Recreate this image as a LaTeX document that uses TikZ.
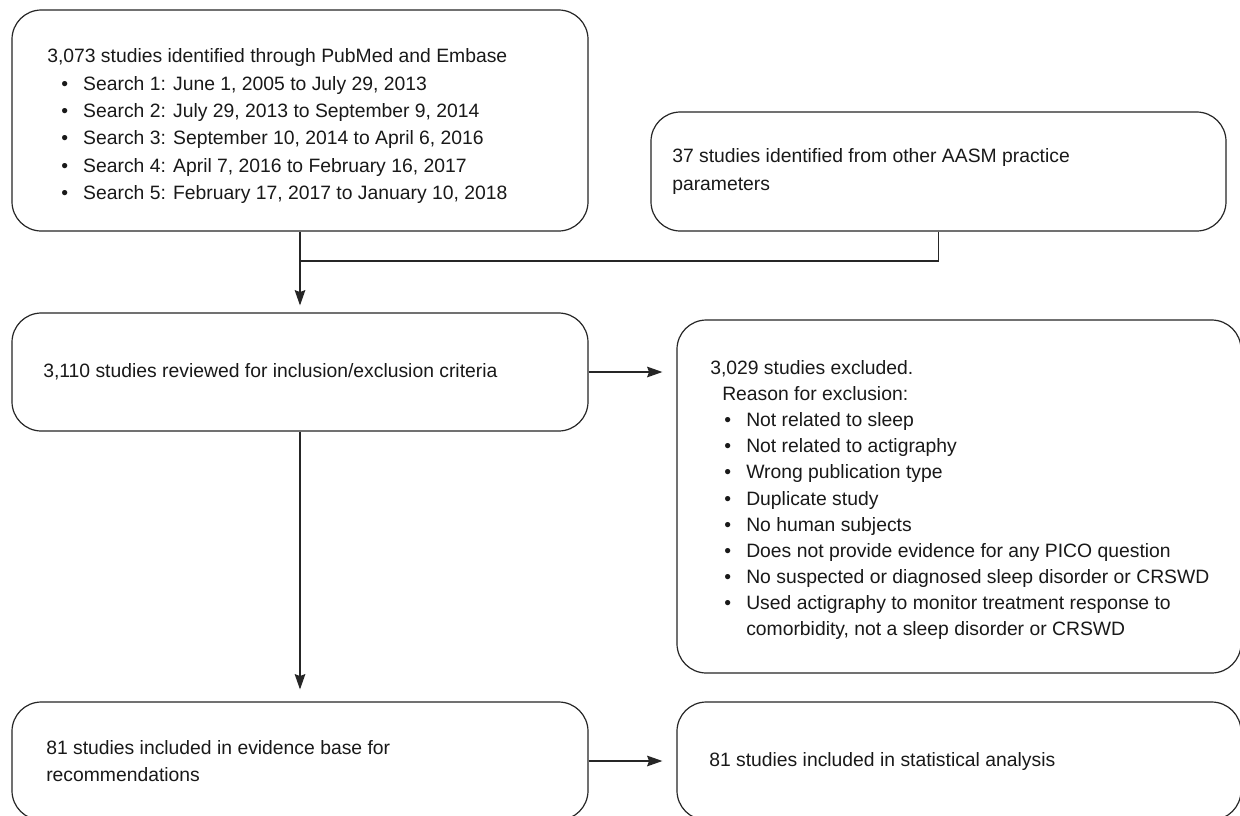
\documentclass[tikz,border=0pt]{standalone}
\usepackage{fontspec}
\setmainfont{Liberation Sans}
\usetikzlibrary{arrows.meta}
\newcommand{\bitem}[1]{\hspace*{10.5pt}\makebox[16.5pt][l]{\textbullet}#1}
\begin{document}
\begin{tikzpicture}[x=0.75pt,y=-0.75pt,
  box/.style={draw=black!85, line width=0.9pt, rounded corners=22pt, rectangle, inner sep=0pt},
  txt/.style={anchor=west, inner sep=0pt, align=left, text=black!90, font=\fontsize{14.5}{20.5}\selectfont},
  conn/.style={draw=black!85, line width=0.9pt},
  arr/.style={conn, -{Stealth[length=11.5pt,width=8pt,inset=1.5pt]}}]
\useasboundingbox (0,0) rectangle (1240,815);
\fill[white] (0,0) rectangle (1240,815);
% boxes
\node[box, minimum width=432pt, minimum height=165.75pt] (b1) at (300,120.5) {};
\node[box, minimum width=431.25pt, minimum height=89.25pt] (b2) at (938.5,171.5) {};
\node[box, minimum width=432pt, minimum height=88.5pt] (b3) at (300,372) {};
\node[box, minimum width=423pt, minimum height=264.75pt] (b4) at (959,496.5) {};
\node[box, minimum width=432pt, minimum height=88.5pt] (b5) at (300,761) {};
\node[box, minimum width=423pt, minimum height=88.5pt] (b6) at (959,761) {};
% texts
\node[txt] (t1) at (47,126) {3,073 studies identified through PubMed and Embase\\
\bitem{Search 1: June 1, 2005 to July 29, 2013}\\
\bitem{Search 2: July 29, 2013 to September 9, 2014}\\
\bitem{Search 3: September 10, 2014 to April 6, 2016}\\
\bitem{Search 4: April 7, 2016 to February 16, 2017}\\
\bitem{Search 5: February 17, 2017 to January 10, 2018}};
\node[txt] (t2) at (672,171.5) {37 studies identified from other AASM practice\\parameters};
\node[txt] (t3) at (43,372) {3,110 studies reviewed for inclusion/exclusion criteria};
\node[txt, font=\fontsize{14.5}{19.6}\selectfont] (t4) at (710,500) {3,029 studies excluded.\\
\hspace*{9pt}Reason for exclusion:\\
\bitem{Not related to sleep}\\
\bitem{Not related to actigraphy}\\
\bitem{Wrong publication type}\\
\bitem{Duplicate study}\\
\bitem{No human subjects}\\
\bitem{Does not provide evidence for any PICO question}\\
\bitem{No suspected or diagnosed sleep disorder or CRSWD}\\
\bitem{Used actigraphy to monitor treatment response to}\\
\hspace*{27pt}comorbidity, not a sleep disorder or CRSWD};
\node[txt] (t5) at (46,761) {81 studies included in evidence base for\\recommendations};
\node[txt] (t6) at (709,761) {81 studies included in statistical analysis};
% connectors
\coordinate (j) at (300,261);
\draw[conn] (b2.south) |- (j);
\draw[arr, shorten >=5.25pt] (b1.south) -- (b3.north);
\draw[arr, shorten >=10.5pt] (b3.east) -- (b3.east -| b4.west);
\draw[arr, shorten >=9pt] (b3.south) -- (b5.north);
\draw[arr, shorten >=10.5pt] (b5.east) -- (b5.east -| b6.west);
\end{tikzpicture}
\end{document}
